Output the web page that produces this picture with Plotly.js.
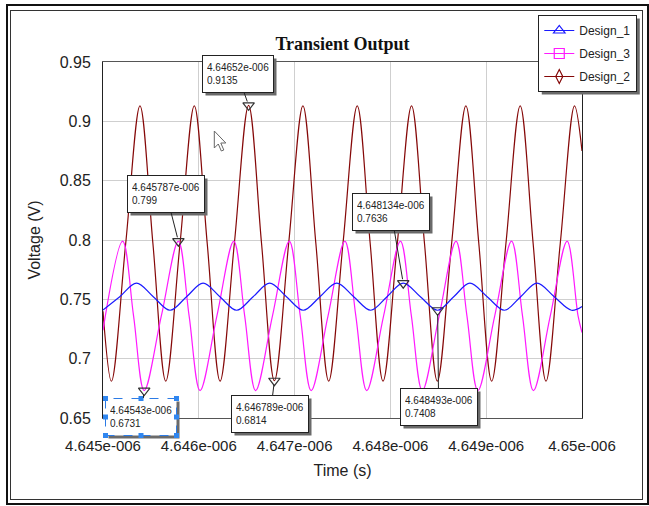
<!DOCTYPE html>
<html><head><meta charset="utf-8">
<script src="https://cdn.plot.ly/plotly-3.0.1.min.js"></script>
<style>
html,body{margin:0;padding:0;background:#fff;}
#wrap{position:relative;width:649px;height:506px;overflow:hidden;}
#chart{position:absolute;left:0;top:0;width:649px;height:506px;}
.frame{position:absolute;pointer-events:none;box-sizing:border-box;}
</style>
</head><body>
<div id="wrap"><div id="chart"></div>
<div class="frame" style="left:6px;top:4px;width:643px;height:501px;border:2px solid #111;"></div>
<div class="frame" style="left:10px;top:10px;width:633px;height:490px;border:1px solid #333;"></div>
</div>
<script>
// ---------- data ----------
const seriesNames = ['Design_1', 'Design_3', 'Design_2'];

const design2Time = [4.645000e-6, 4.645088e-6, 4.645237e-6, 4.645386e-6, 4.645521e-6, 4.645655e-6, 4.645804e-6, 4.645953e-6,
  4.646088e-6, 4.646222e-6, 4.646371e-6, 4.646520e-6, 4.646655e-6, 4.646789e-6, 4.646938e-6, 4.647087e-6,
  4.647222e-6, 4.647356e-6, 4.647505e-6, 4.647654e-6, 4.647789e-6, 4.647923e-6, 4.648072e-6, 4.648221e-6,
  4.648356e-6, 4.648490e-6, 4.648639e-6, 4.648788e-6, 4.648923e-6, 4.649057e-6, 4.649206e-6, 4.649355e-6,
  4.649490e-6, 4.649624e-6, 4.649773e-6, 4.649922e-6, 4.650000e-6];
const design2Volt = [0.740, 0.681, 0.797, 0.913, 0.797, 0.681, 0.797, 0.913,
  0.797, 0.681, 0.797, 0.9135, 0.797, 0.6814, 0.797, 0.913,
  0.797, 0.681, 0.797, 0.913, 0.797, 0.681, 0.797, 0.913,
  0.797, 0.681, 0.797, 0.913, 0.797, 0.681, 0.797, 0.913,
  0.797, 0.681, 0.797, 0.913, 0.875];

const design3Time = [4.645000e-6, 4.645205e-6, 4.645319e-6, 4.645430e-6, 4.645609e-6, 4.645787e-6, 4.645899e-6, 4.646013e-6,
  4.646189e-6, 4.646365e-6, 4.646479e-6, 4.646593e-6, 4.646769e-6, 4.646945e-6, 4.647059e-6, 4.647173e-6,
  4.647349e-6, 4.647525e-6, 4.647639e-6, 4.647753e-6, 4.647929e-6, 4.648105e-6, 4.648219e-6, 4.648333e-6,
  4.648509e-6, 4.648685e-6, 4.648799e-6, 4.648913e-6, 4.649089e-6, 4.649265e-6, 4.649379e-6, 4.649493e-6,
  4.649669e-6, 4.649845e-6, 4.649959e-6, 4.650000e-6];
const design3Volt = [0.724, 0.799, 0.736, 0.6731, 0.736, 0.799, 0.736, 0.673,
  0.736, 0.799, 0.736, 0.673, 0.736, 0.799, 0.736, 0.673,
  0.736, 0.799, 0.736, 0.673, 0.736, 0.799, 0.736, 0.673,
  0.736, 0.799, 0.736, 0.673, 0.736, 0.799, 0.736, 0.673,
  0.736, 0.799, 0.736, 0.722];

const design1Time = [4.645000e-6, 4.645175e-6, 4.645350e-6, 4.645525e-6, 4.645700e-6, 4.645872e-6, 4.646045e-6, 4.646220e-6,
  4.646395e-6, 4.646567e-6, 4.646740e-6, 4.646915e-6, 4.647090e-6, 4.647265e-6, 4.647440e-6, 4.647617e-6,
  4.647795e-6, 4.647965e-6, 4.648134e-6, 4.648313e-6, 4.648493e-6, 4.648661e-6, 4.648830e-6, 4.649010e-6,
  4.649190e-6, 4.649360e-6, 4.649530e-6, 4.649710e-6, 4.649890e-6, 4.650000e-6];
const design1Volt = [0.741, 0.7522, 0.7636, 0.7522, 0.7408, 0.7522, 0.7636, 0.7522,
  0.7408, 0.7522, 0.7636, 0.7522, 0.7408, 0.7522, 0.7636, 0.7522,
  0.7408, 0.7522, 0.7636, 0.7522, 0.7408, 0.7522, 0.7636, 0.7522,
  0.7408, 0.7522, 0.7636, 0.7522, 0.7408, 0.744];

const tipTimes = [4.64652e-6, 4.645787e-6, 4.648134e-6, 4.64543e-6, 4.646789e-6, 4.648493e-6];
const tipValues = [0.9135, 0.799, 0.7636, 0.6731, 0.6814, 0.7408];
const tipTimeText = ['4.64652e-006', '4.645787e-006', '4.648134e-006', '4.64543e-006', '4.646789e-006', '4.648493e-006'];
const tipValueText = ['0.9135', '0.799', '0.7636', '0.6731', '0.6814', '0.7408'];

const timeTickVals = [4.645e-6, 4.646e-6, 4.647e-6, 4.648e-6, 4.649e-6, 4.65e-6];
const timeTickText = ['4.645e-006', '4.646e-006', '4.647e-006', '4.648e-006', '4.649e-006', '4.65e-006'];
const voltTickVals = [0.65, 0.7, 0.75, 0.8, 0.85, 0.9, 0.95];
const voltTickText = ['0.65', '0.7', '0.75', '0.8', '0.85', '0.9', '0.95'];

// ---------- styles ----------
const SANS = 'Liberation Sans, Arial, sans-serif';
const colors = {Design_1: '#1a1aff', Design_3: '#ff1aff', Design_2: '#850808'};
const symbols = {Design_1: 'triangle-up-open', Design_3: 'square-open', Design_2: 'diamond-tall-open'};
const tipOffsets = [[-11, -31], [-12, -47], [-12, -71], [-3, 26], [-4, 33], [1, 97]];
const selectedTip = 3;

const seriesData = {
  Design_2: [design2Time, design2Volt],
  Design_3: [design3Time, design3Volt],
  Design_1: [design1Time, design1Volt]
};

const traces = [];
['Design_2', 'Design_3', 'Design_1'].forEach(n => {
  traces.push({
    x: seriesData[n][0], y: seriesData[n][1], type: 'scatter', mode: 'lines',
    line: {color: colors[n], width: 1.2, shape: 'spline', smoothing: 1},
    showlegend: false, hoverinfo: 'skip', legendgroup: n
  });
});
seriesNames.forEach(n => {
  traces.push({
    x: [null], y: [null], type: 'scatter', mode: 'lines+markers', name: n, legendgroup: n,
    line: {color: colors[n], width: 1.2},
    marker: {symbol: symbols[n], size: 10, color: colors[n], line: {color: colors[n], width: 1.2}}
  });
});
traces.push({
  x: tipTimes, y: tipValues, type: 'scatter', mode: 'markers', showlegend: false, hoverinfo: 'skip',
  marker: {symbol: 'triangle-down-open', size: 10, color: '#333', line: {color: '#333', width: 1.2}}
});

const annotations = tipTimes.map((t, i) => ({
  x: t, y: tipValues[i], xref: 'x', yref: 'y',
  text: tipTimeText[i] + '<br>' + tipValueText[i],
  showarrow: true, arrowhead: 0, arrowwidth: 1, arrowcolor: '#222', standoff: 4,
  ax: tipOffsets[i][0], ay: tipOffsets[i][1],
  align: 'left', valign: 'middle', height: 28,
  font: {family: SANS, size: 10, color: '#222'},
  bgcolor: i === selectedTip ? 'rgba(0,0,0,0)' : '#ffffff',
  bordercolor: i === selectedTip ? 'rgba(0,0,0,0)' : '#222',
  borderwidth: 1, borderpad: 4
}));

const layout = {
  width: 649, height: 506,
  margin: {l: 103, r: 64, t: 62, b: 88},
  paper_bgcolor: '#ffffff', plot_bgcolor: '#ffffff',
  title: {text: 'Transient Output', font: {family: 'Liberation Serif, Times New Roman, serif', size: 18, color: '#111', weight: 'bold'},
          xref: 'paper', x: 0.5, xanchor: 'center', yref: 'container', y: 1 - 44 / 506, yanchor: 'middle'},
  xaxis: {
    range: [4.645e-6, 4.65e-6], tickmode: 'array', tickvals: timeTickVals, ticktext: timeTickText,
    showgrid: true, gridcolor: '#cfcfcf', gridwidth: 1, zeroline: false,
    showline: true, linecolor: '#555', linewidth: 1, mirror: true, ticks: '',
    ticklabelstandoff: 14,
    tickfont: {family: SANS, size: 15, color: '#222'},
    title: {text: 'Time (s)', font: {family: SANS, size: 16, color: '#222'}, standoff: 11}
  },
  yaxis: {
    range: [0.65, 0.95], tickmode: 'array', tickvals: voltTickVals, ticktext: voltTickText,
    showgrid: true, gridcolor: '#cfcfcf', gridwidth: 1, zeroline: false,
    showline: true, linecolor: '#222', linewidth: 1, mirror: true, ticks: '',
    ticklabelstandoff: 8,
    tickfont: {family: SANS, size: 16, color: '#222'},
    title: {text: 'Voltage (V)', font: {family: SANS, size: 16, color: '#222'}, standoff: 15}
  },
  legend: {
    x: (541 - 103) / 482, y: (418 - 15) / 356, xanchor: 'left', yanchor: 'top',
    bgcolor: '#ffffff', bordercolor: '#222', borderwidth: 1,
    font: {family: SANS, size: 12, color: '#222'},
    traceorder: 'grouped', tracegroupgap: 4, itemwidth: 30
  },
  annotations: annotations,
  showlegend: true,
  hovermode: false
};

Plotly.newPlot('chart', traces, layout, {displayModeBar: false, staticPlot: true}).then(gd => {
  const s = gd._fullLayout._size;
  const box = gd.getBoundingClientRect();
  const px2x = p => (p - box.left - s.l) / s.w;
  const px2y = p => (s.t + s.h - (p - box.top)) / s.h;
  const shapes = [];
  const lg = gd.querySelector('.legend rect.bg');
  if (lg) {
    const b = lg.getBoundingClientRect();
    shapes.push({type: 'rect', xref: 'paper', yref: 'paper', layer: 'above',
      x0: px2x(b.left + 3), x1: px2x(b.right + 3), y0: px2y(b.bottom + 3), y1: px2y(b.top + 3),
      fillcolor: '#6a6a6a', line: {width: 0}});
  }
  gd.querySelectorAll('.annotation').forEach(a => {
    const i = +a.getAttribute('data-index');
    const bg = a.querySelector('rect.bg');
    if (!bg) return;
    const b = bg.getBoundingClientRect();
    shapes.push({type: 'rect', xref: 'paper', yref: 'paper', layer: 'above',
      x0: px2x(b.left + 3), x1: px2x(b.right + 3), y0: px2y(b.bottom + 3), y1: px2y(b.top + 3),
      fillcolor: '#6a6a6a', line: {width: 0}});
    if (i === selectedTip) {
      shapes.push({type: 'rect', xref: 'paper', yref: 'paper', layer: 'above',
        x0: px2x(b.left), x1: px2x(b.right), y0: px2y(b.bottom), y1: px2y(b.top),
        fillcolor: '#ffffff', line: {width: 1, color: '#2c7be5', dash: 'dash'}});
      const cx = (b.left + b.right) / 2, cy = (b.top + b.bottom) / 2;
      const pts = [[b.left, b.top], [cx, b.top], [b.right, b.top], [b.left, cy], [b.right, cy], [b.left, b.bottom], [cx, b.bottom], [b.right, b.bottom]];
      pts.forEach(p => {
        shapes.push({type: 'rect', xref: 'paper', yref: 'paper', layer: 'above',
          x0: px2x(p[0] - 2.5), x1: px2x(p[0] + 2.5), y0: px2y(p[1] + 2.5), y1: px2y(p[1] - 2.5),
          fillcolor: '#2f86f0', line: {width: 0}});
      });
    }
  });
  shapes.push({type: 'path', xref: 'paper', yref: 'paper', xsizemode: 'pixel', ysizemode: 'pixel', layer: 'above',
    xanchor: (215 - 103) / 482, yanchor: (418 - 131) / 356,
    path: 'M0,0 L0,-17 L4,-13 L7,-20 L9.5,-19 L6.5,-12 L11.5,-12 Z',
    fillcolor: '#ffffff', line: {color: '#666', width: 1}});
  return Plotly.relayout(gd, {shapes: shapes});
});
</script>
</body></html>
